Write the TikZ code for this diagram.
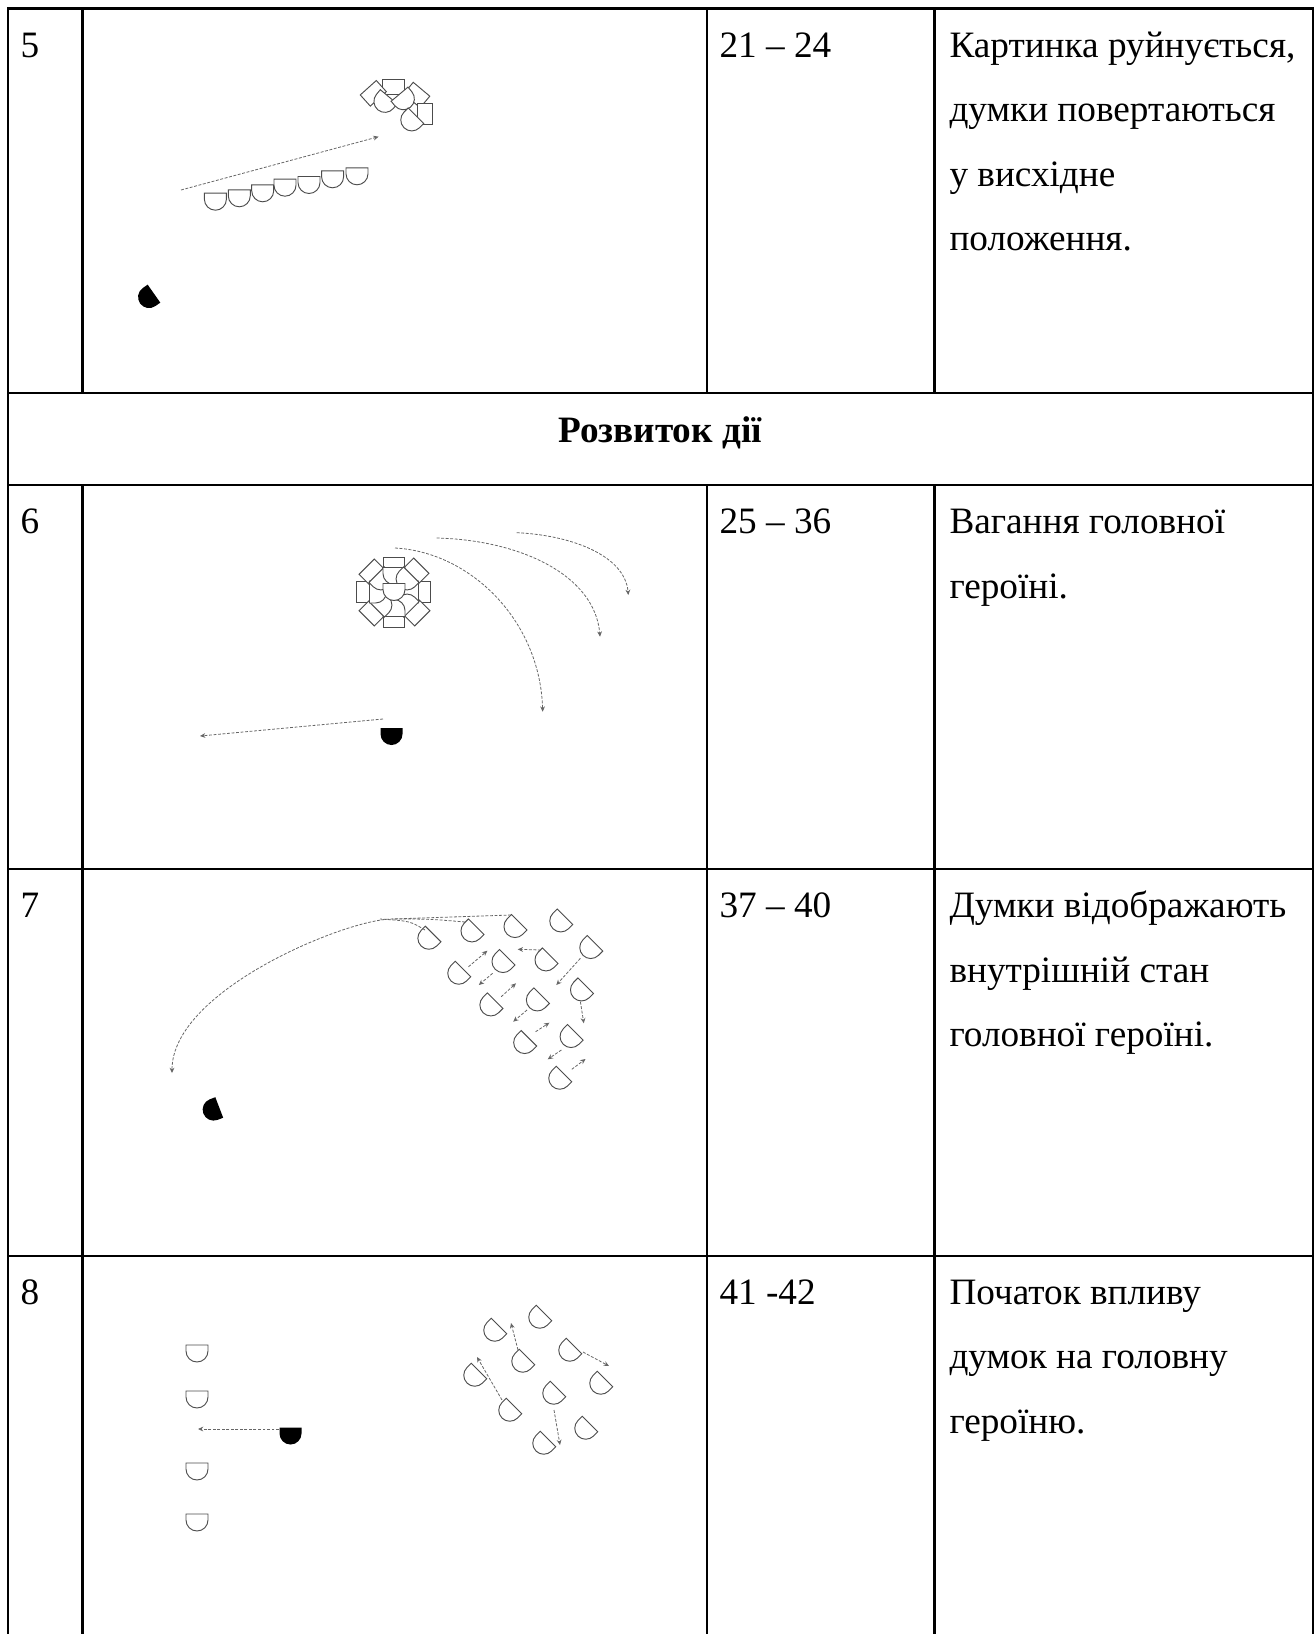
\documentclass[tikz,border=0pt]{standalone}
\usepackage{fontspec}
\setmainfont{Liberation Serif}
\usetikzlibrary{arrows.meta,positioning}
\newcommand{\px}{0.376pt}
\tikzset{
    dumka/.pic={\draw[fill=white, draw=black!70, line width=0.35pt]
        (-11,-8.5) -- (11,-8.5) -- (11,-2.5) arc[start angle=0, end angle=180, radius=11] -- cycle;},
    heroinya/.pic={\fill[black]
        (-11,-8.5) -- (11,-8.5) -- (11,-2.5) arc[start angle=0, end angle=180, radius=11] -- cycle;},
    kubik/.pic={\draw[fill=white, draw=black!70, line width=0.35pt]
        (-10.8,-7.5) rectangle (10.8,7.5);},
    rukh/.style={draw=black!60, line width=0.3pt, dash pattern=on 1.1pt off 0.6pt,
        -{Stealth[length=2pt, width=1.8pt]}},
    rama/.style={line width=0.85pt},
    tekst/.style={anchor=base west, inner sep=0pt, font=\fontsize{14}{24}\selectfont}
}
\begin{document}
\begin{tikzpicture}[x=\px, y=-\px]
\useasboundingbox (0,0) rectangle (1315,1634);

\draw[rama]
    (8,1634) -- (8,8.5) -- (1313,8.5) -- (1313,1634)
    (8,393) -- (1313,393)
    (8,485) -- (1313,485)
    (8,869) -- (1313,869)
    (8,1256) -- (1313,1256);
\foreach \x in {82.5,707,934.5}
    \draw[rama] (\x,8.5) -- (\x,393) (\x,485) -- (\x,1634);

\node[tekst] (nomer5) at (20,57) {5};
\node[tekst] (takty5) at (719,57) {21 – 24};
\foreach \t [count=\i from 0] in {{Картинка руйнується,}, {думки повертаються}, {у висхідне}, {положення.}}
    \node[tekst] (opys5-\i) at (949,{57+64.5*\i}) {\t};

\node[tekst, anchor=base, font=\fontsize{14}{24}\selectfont\bfseries] (rozvytok) at (660,442) {Розвиток дії};

\node[tekst] (nomer6) at (20,533.5) {6};
\node[tekst] (takty6) at (719,533.5) {25 – 36};
\foreach \t [count=\i from 0] in {{Вагання головної}, {героїні.}}
    \node[tekst] (opys6-\i) at (949,{533.5+64.5*\i}) {\t};

\node[tekst] (nomer7) at (20,917.5) {7};
\node[tekst] (takty7) at (719,917.5) {37 – 40};
\foreach \t [count=\i from 0] in {{Думки відображають}, {внутрішній стан}, {головної героїні.}}
    \node[tekst] (opys7-\i) at (949,{917.5+64.5*\i}) {\t};

\node[tekst] (nomer8) at (20,1304) {8};
\node[tekst] (takty8) at (719,1304) {41 -42};
\foreach \t [count=\i from 0] in {{Початок впливу}, {думок на головну}, {героїню.}}
    \node[tekst] (opys8-\i) at (949,{1304+64.5*\i}) {\t};

% row 5
\pic at (393.5,87) {kubik};
\pic[rotate=42] at (373.3,93.3) {kubik};
\pic[rotate=-40] at (416.7,95) {kubik};
\pic[rotate=90] at (425,114) {kubik};
\pic[rotate=-40] at (383.3,103.3) {dumka};
\pic[rotate=40] at (405,100.7) {dumka};
\pic[rotate=-45] at (410,121.7) {dumka};
\foreach \x/\y in {215.4/201.7, 239.3/198.3, 262.7/193.3, 285/187.7, 309/185, 332.6/179.3, 357/176.3}
    \pic at (\x,\y) {dumka};
\draw[rukh] (181,190) -- (378.6,136.7);
\pic[rotate=-55] at (147,298.5) {heroinya};

% row 6
\begin{scope}[shift={(394,592)}]
    \foreach \x/\y/\r in {0/-27/0, 0/28/0, -30/0/90, 29/0/90, -22/-20/45, 22/-21/-45, -22/21/-45, 23/21/45}
        \pic[rotate=\r] at (\x,\y) {kubik};
    \foreach \a in {0,45,...,315}
        \pic[rotate=-\a-90] at (\a:16) {dumka};
    \pic at (0,0) {dumka};
\end{scope}
\draw[rukh] (395,548) .. controls (470,552) and (540,620) .. (542.7,711.7);
\draw[rukh] (436.7,538) .. controls (520,540) and (595,575) .. (600,636.7);
\draw[rukh] (516.7,532.7) .. controls (570,535) and (625,555) .. (628.3,595);
\pic at (391.5,736.5) {heroinya};
\draw[rukh] (383,719) -- (200,736);

% row 7
\foreach \x/\y in {427.1/940, 470.2/932.7, 513.2/928.3, 559/922.7, 457/975, 501.2/963.3, 544.2/961.7,
        589/949.3, 489.1/1006.7, 535.6/1001.7, 579.7/991.7, 522.9/1044.3, 569.3/1038.3, 558/1080}
    \pic[rotate=-45] at (\x,\y) {dumka};
\draw[rukh] (511,915) -- (392,919) .. controls (347,919) and (172,990) .. (172,1073);
\draw[rukh, -] (465,922) .. controls (430,919) .. (392,919);
\draw[rukh, -] (425,930) .. controls (410,921) .. (380,919);
\foreach \xa/\ya/\xb/\yb in {468.5/966.7/487.4/950.7, 492.6/973.3/478.8/985, 501.2/996.7/516/983.3,
        540.8/950/517.7/949.3, 580.4/958.3/556.3/985, 580.4/1001.7/583.8/1023.3, 527/1010/513.2/1021.7,
        535.6/1031.7/549.4/1022.7, 561.4/1050/547.7/1059.3, 571.8/1069.3/585.5/1059}
    \draw[rukh] (\xa,\ya) -- (\xb,\yb);
\pic[rotate=-69] at (211.3,1110.5) {heroinya};

% row 8
\foreach \y in {1353.5, 1399.5, 1471.5, 1522.5}
    \pic at (197,\y) {dumka};
\pic at (290.5,1436) {heroinya};
\draw[rukh] (279,1429) -- (198,1429);
\foreach \x/\y in {493/1332, 538/1319, 521/1363, 568/1352, 473/1377, 552/1395, 599/1385, 508/1412, 584/1430, 542/1445}
    \pic[rotate=-45] at (\x,\y) {dumka};
\foreach \xa/\ya/\xb/\yb in {518/1350/511/1323, 502/1400/477/1357, 583/1352/609/1366, 554/1410/560/1445}
    \draw[rukh] (\xa,\ya) -- (\xb,\yb);
\end{tikzpicture}
\end{document}
